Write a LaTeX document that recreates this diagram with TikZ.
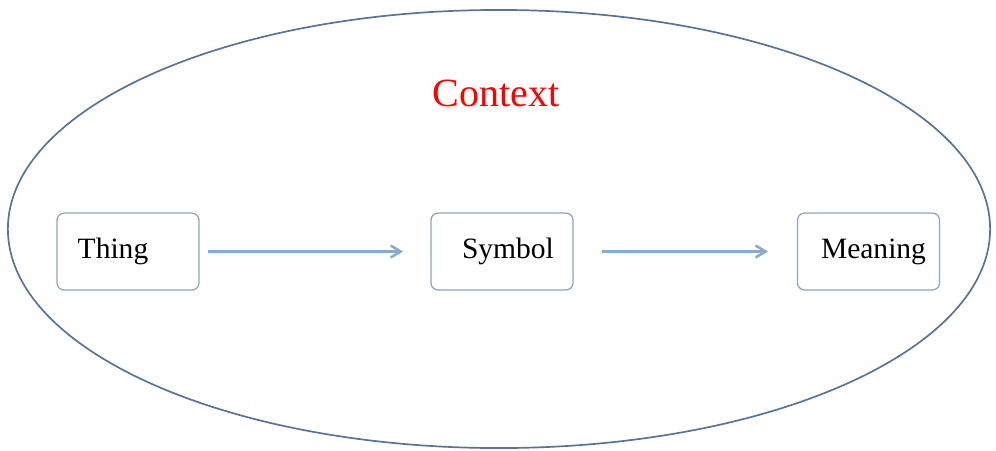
\documentclass[tikz,border=0pt]{standalone}
\usepackage{fontspec}
\setmainfont{Liberation Serif}
\usetikzlibrary{arrows.meta,positioning,shapes.geometric}
\definecolor{ringblue}{RGB}{85,115,155}
\definecolor{boxblue}{RGB}{140,165,195}
\definecolor{arrowblue}{RGB}{135,170,210}
\tikzset{
    contextring/.style={ellipse,draw=ringblue,line width=1.2pt,minimum width=24.55cm,minimum height=10.95cm},
    termbox/.style={rectangle,draw=boxblue,line width=0.9pt,rounded corners=5pt,minimum width=3.55cm,minimum height=1.92cm,font=\fontsize{21}{25}\selectfont},
    termline/.style={-{Straight Barb[length=2.5mm,width=3mm]},draw=arrowblue,line width=1.8pt}
}
\begin{document}
\begin{tikzpicture}[x=0.025cm,y=-0.025cm]
            \useasboundingbox (0,0) rectangle (996,450);
            \node[contextring] (context) at (499,229) {};
            \node[text=red,font=\fontsize{28.5}{32}\selectfont] (title) at (496,93) {Context};
            \node[termbox] (thing) at (128,251.5) {\hspace*{-0.75cm}Thing};
            \node[termbox] (symbol) at (502,251.5) {\hspace*{0.3cm}Symbol};
            \node[termbox] (meaning) at (868.5,251.5) {\hspace*{0.25cm}Meaning};
            \draw[termline,shorten <=0.2cm,shorten >=0.68cm] (thing) -- (symbol);
            \draw[termline,shorten <=0.72cm,shorten >=0.72cm] (symbol) -- (meaning);
        \end{tikzpicture}
\end{document}
